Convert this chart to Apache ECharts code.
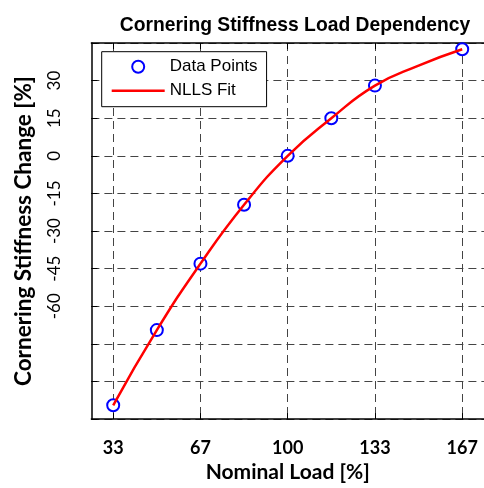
<!DOCTYPE html>
<html><head><meta charset="utf-8">
<script src="https://cdn.jsdelivr.net/npm/echarts@6/dist/echarts.min.js"></script>
<style>html,body{margin:0;padding:0;background:#fff}#c{width:484px;height:488px}</style>
</head><body><div id="c"></div>
<script>
const loadPoints = [33.33, 50, 66.67, 83.33, 100, 116.67, 133.33, 166.67];
const stiffnessChange = [-99.5, -69.5, -43, -19.5, 0, 15, 28, 42.5];
const fitLoad = [33.33, 50, 66.67, 83.33, 100, 116.67, 133.33, 150, 166.67];
const fitChange = [-99.5, -69.5, -43, -19.5, 0, 15, 28, 36, 42.5];
const xTickValues = [33.33, 66.67, 100, 133.33, 166.67];
const xTickLabels = ['33', '67', '100', '133', '167'];
const yTickValues = [30, 15, 0, -15, -30, -45, -60];
const yTickLabels = ['30', '15', '0', '-15', '-30', '-45', '-60'];

function lookup(vals, labels, v) {
  for (let i = 0; i < vals.length; i++) if (Math.abs(vals[i] - v) < 0.01) return labels[i];
  return '';
}
const chart = echarts.init(document.getElementById('c'), null, {renderer: 'canvas'});
const gridDash = {type: [8, 5], color: '#444', width: 1};
chart.setOption({
  animation: false,
  backgroundColor: '#fff',
  title: {
    text: 'Cornering Stiffness Load Dependency',
    left: 290, textAlign: 'center', top: 11,
    textStyle: {fontFamily: 'Liberation Sans', fontWeight: 'bold', fontSize: 19.3, color: '#000'}
  },
  legend: {
    orient: 'vertical', left: 101.7, top: 51.7,
    padding: [6.5, 9, 7.5, 10], itemGap: 7, itemWidth: 53, itemHeight: 12,
    borderColor: '#000', borderWidth: 1, backgroundColor: '#fff',
    textStyle: {fontFamily: 'Liberation Sans', fontSize: 17, color: '#000'},
    data: [
      {name: 'Data Points', icon: 'emptyCircle'},
      {name: 'NLLS Fit', icon: 'path://M0,0 H53 V2.5 H0 Z'}
    ]
  },
  grid: {left: 91.4, width: 394.5, top: 43, bottom: 65, containLabel: false},
  xAxis: [{
    type: 'value', min: 25, max: 175, position: 'bottom',
    axisLine: {onZero: false, lineStyle: {color: '#000', width: 1.5}},
    axisTick: {inside: true, length: 6, customValues: xTickValues, lineStyle: {color: '#000'}},
    axisLabel: {customValues: xTickValues, formatter: v => lookup(xTickValues, xTickLabels, v),
      fontFamily: 'Lato', fontWeight: 'bold', fontSize: 18, color: '#000', margin: 20},
    splitLine: {show: true, lineStyle: gridDash},
    name: 'Nominal Load [%]', nameLocation: 'middle', nameGap: 41,
    nameTextStyle: {fontFamily: 'Lato', fontWeight: 'bold', fontSize: 21, color: '#000'}
  }, {
    type: 'value', min: 25, max: 175, position: 'top',
    axisLine: {onZero: false, lineStyle: {color: '#000', width: 1.5}},
    axisTick: {inside: true, length: 6, customValues: xTickValues, lineStyle: {color: '#000'}},
    axisLabel: {show: false}, splitLine: {show: false}
  }],
  yAxis: [{
    type: 'value', min: -105, max: 45, interval: 15,
    axisLine: {show: true, onZero: false, lineStyle: {color: '#000', width: 1.5}},
    axisTick: {show: true, inside: true, length: 6, lineStyle: {color: '#000'}},
    axisLabel: {customValues: yTickValues, formatter: v => lookup(yTickValues, yTickLabels, v),
      rotate: 90, fontFamily: 'Lato', fontSize: 17, color: '#000', margin: 28},
    splitLine: {show: true, lineStyle: gridDash},
    name: 'Cornering Stiffness Change [%]', nameLocation: 'middle', nameGap: 56, nameRotate: 90,
    nameTextStyle: {fontFamily: 'Lato', fontWeight: 'bold', fontSize: 22.5, color: '#000'}
  }],
  series: [{
    name: 'Data Points', type: 'scatter',
    data: loadPoints.map((x, i) => [x, stiffnessChange[i]]),
    symbol: 'emptyCircle', symbolSize: 12,
    itemStyle: {color: '#0000ff', borderColor: '#0000ff', borderWidth: 3, opacity: 1}
  }, {
    name: 'NLLS Fit', type: 'line',
    data: fitLoad.map((x, i) => [x, fitChange[i]]),
    smooth: 0.5, showSymbol: false, symbol: 'none',
    lineStyle: {color: '#ff0000', width: 2.5}, itemStyle: {color: '#ff0000'}
  }]
});
</script></body></html>
